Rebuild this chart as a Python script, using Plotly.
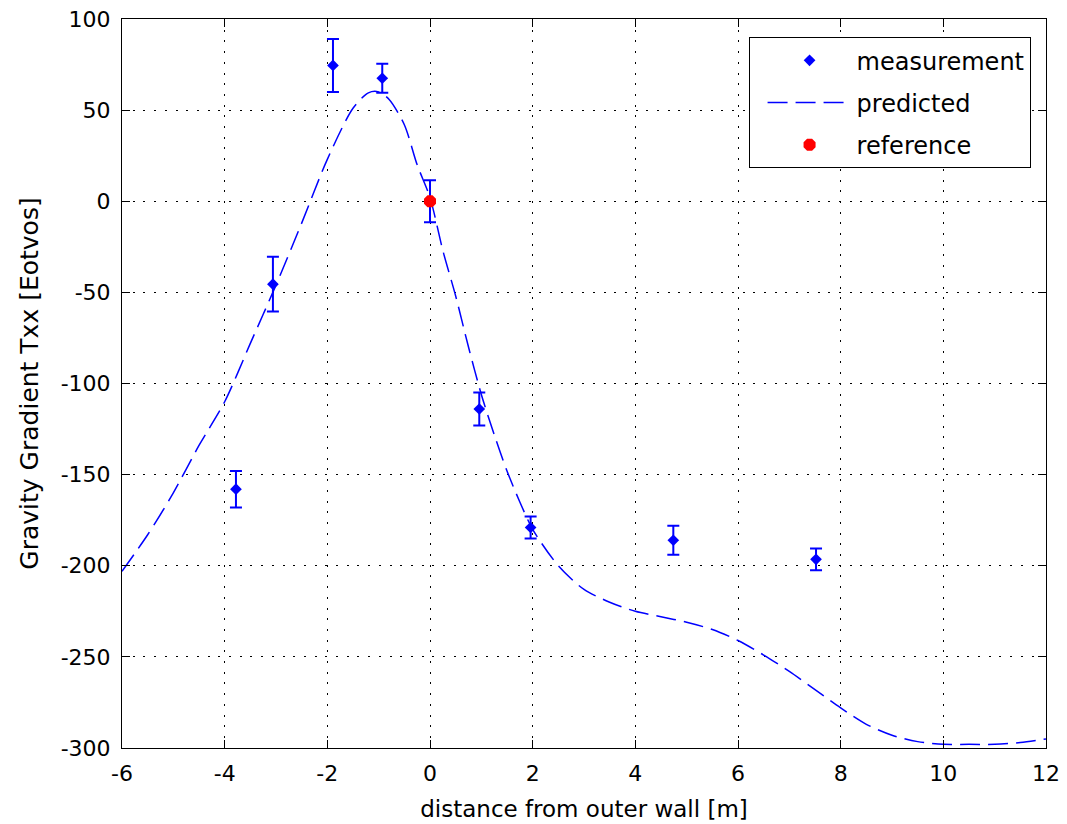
import plotly.graph_objects as go

# Measured gradient along the traverse, with one-sigma error bars
meas_x = [-3.78, -3.06, -1.89, -0.93, 0.0, 0.96, 1.96, 4.74, 7.52]
meas_y = [-158, -45.5, 74.5, 67.5, 0.0, -114, -179, -186, -196.5]
meas_err = [10, 15, 14.5, 8, 11.5, 9, 6, 8, 6]

# Reference station
ref_x = [0.0]
ref_y = [0.0]

# Model prediction
pred_x = [-6, -5.5, -5, -4.5, -4, -3.5, -3, -2.5, -2, -1.5, -1.2, -1.0, -0.8,
          -0.5, -0.25, 0, 0.25, 0.5, 0.75, 1.0, 1.25, 1.5, 1.75, 2.0, 2.5,
          3.0, 3.5, 4.0, 4.5, 5.0, 5.5, 6.0, 6.5, 7.0, 7.5, 8.0, 8.5, 9.0,
          9.5, 10.0, 10.5, 11.0, 11.5, 12.0]
pred_y = [-203, -183, -160, -134, -110, -78, -46, -12, 23, 51, 59.5, 60, 56,
          42, 20, 2, -27, -52, -80, -106, -128, -148, -165, -180, -200,
          -213, -220, -225, -228, -231, -235, -241, -249, -258, -268, -278,
          -287, -293, -296.5, -298, -298, -298, -297, -295]

x_ticks = [-6, -4, -2, 0, 2, 4, 6, 8, 10, 12]
x_tick_text = ["-6", "-4", "-2", "0", "2", "4", "6", "8", "10", "12"]
y_ticks = [100, 50, 0, -50, -100, -150, -200, -250, -300]
y_tick_text = ["100", "50", "0", "-50", "-100", "-150", "-200", "-250", "-300"]

BLUE = "#0000ff"
RED = "#ff0000"
FONT = "DejaVu Sans"

fig = go.Figure()

fig.add_trace(go.Scatter(
    x=meas_x, y=meas_y, mode="markers", name="measurement",
    legendgroup="a",
    marker=dict(symbol="diamond", size=9, color=BLUE),
    error_y=dict(type="data", array=meas_err, visible=True,
                 color=BLUE, thickness=2, width=6),
))

fig.add_trace(go.Scatter(
    x=pred_x, y=pred_y, mode="lines", name="predicted",
    legendgroup="b",
    line=dict(color=BLUE, width=1.5, dash="20px,8px", shape="spline",
              smoothing=0.8),
))

fig.add_trace(go.Scatter(
    x=ref_x, y=ref_y, mode="markers", name="reference",
    legendgroup="c",
    marker=dict(symbol="octagon", size=13, color=RED),
))

axis_common = dict(
    showline=True, linecolor="black", linewidth=1, mirror="ticks",
    ticks="inside", ticklen=8, tickcolor="black", tickwidth=1,
    showgrid=True, gridcolor="black", gridwidth=1, griddash="2px,8.7px",
    zeroline=False, automargin=False,
    tickfont=dict(family=FONT, size=22, color="black"),
)

fig.update_xaxes(
    range=[-6, 12], tickvals=x_ticks, ticktext=x_tick_text,
    title=dict(text="distance from outer wall [m]",
               font=dict(family=FONT, size=23, color="black"), standoff=15),
    ticklabelstandoff=6,
    **axis_common,
)
fig.update_yaxes(
    range=[-300, 100], tickvals=y_ticks, ticktext=y_tick_text,
    title=dict(text="Gravity Gradient Txx [Eotvos]",
               font=dict(family=FONT, size=25, color="black"), standoff=14),
    ticklabelstandoff=6,
    **axis_common,
)

fig.update_layout(
    width=1067, height=824,
    margin=dict(l=122, r=21, t=19, b=76),
    paper_bgcolor="white", plot_bgcolor="white",
    showlegend=True,
    legend=dict(
        x=0.8307, y=0.975, xanchor="center", yanchor="top",
        bgcolor="white", bordercolor="black", borderwidth=1,
        font=dict(family=FONT, size=24, color="black"),
        tracegroupgap=8, itemwidth=84, indentation=13,
    ),
)

fig.write_html("out.html")
